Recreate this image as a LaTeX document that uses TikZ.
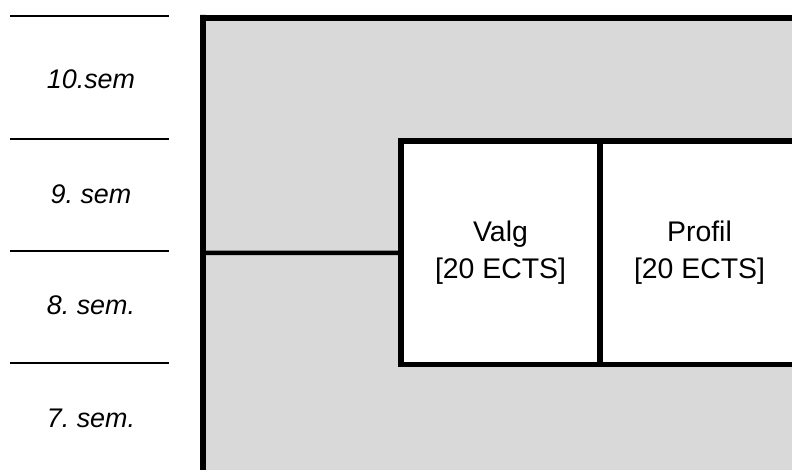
\documentclass[tikz,border=0pt]{standalone}
\usepackage{fontspec}
\setmainfont{Liberation Sans}
\begin{document}
\frenchspacing
\begin{tikzpicture}[x=1bp,y=-1bp,
  semline/.style={line width=2bp},
  semlabel/.style={anchor=base,inner sep=0pt,font=\fontsize{27}{32}\selectfont\itshape},
  frameline/.style={line width=6bp},
  divline/.style={line width=4.5bp},
  course/.style={draw,fill=white,line width=5.5bp,outer sep=0pt,minimum width=199bp,minimum height=223.5bp,inner sep=0pt,align=center,font=\fontsize{28.5}{37}\selectfont}]
\useasboundingbox (0,0) rectangle (792,470);
\clip (0,0) rectangle (792,470);
% semester separators
\draw[semline] (10,16) -- (169,16);
\draw[semline] (10,139) -- (169,139);
\draw[semline] (10,251) -- (169,251);
\draw[semline] (10,363) -- (169,363);
\node[semlabel] (s10) at (91,89) {10.sem};
\node[semlabel] (s9) at (91,204) {9. sem};
\node[semlabel] (s8) at (91,315) {8. sem.};
\node[semlabel] (s7) at (91,427) {7. sem.};
% grey area
\fill[fill={rgb,255:red,217;green,217;blue,217}] (203,18) rectangle (800,480);
\draw[frameline,line join=miter] (203,480) -- (203,15) -- (203,18) -- (800,18);
\coordinate (lb) at (203,253);
% boxes
\node[course] (valg) at (500.5,252.75) {Valg\\{[20 ECTS]}};
\node[course,anchor=west] (profil) at (valg.east) {Profil\\{[20 ECTS]}};
\draw[divline] (lb) -- (valg.west);
\end{tikzpicture}
\end{document}
